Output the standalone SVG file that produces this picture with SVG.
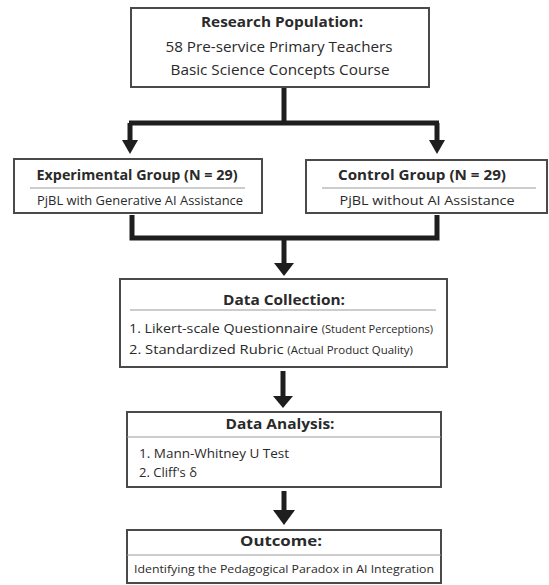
<svg xmlns="http://www.w3.org/2000/svg" width="549" height="585" viewBox="0 0 549 585">
<defs>
<style>
.box{fill:#fff;stroke:#4a4a4a;stroke-width:2}
.sep{stroke:#9a9a9a;stroke-width:1}
.t{font-family:"Open Sans","Liberation Sans",sans-serif;fill:#2a2a2a}
.b{font-weight:bold}
.c{text-anchor:middle}
.con{fill:none;stroke:#1e1e1e;stroke-width:5;stroke-linejoin:miter}
.head{fill:#1e1e1e}
</style>
</defs>
<rect width="549" height="585" fill="#fff"/>

<g id="connectors">
<path class="con" d="M284,88 V123 M129,123 H439"/>
<path class="con" d="M130,123 V141"/>
<path class="con" d="M437,123 V141"/>
<polygon class="head" points="122,140 138,140 130,154"/>
<polygon class="head" points="429,140 445,140 437,154"/>
<path class="con" d="M132,215 V238 H437 V215"/>
<path class="con" d="M284,238 V264"/>
<polygon class="head" points="274,263 294,263 284,276"/>
<path class="con" d="M283,371 V397"/>
<polygon class="head" points="273,396 293,396 283,408"/>
<path class="con" d="M284,491 V511"/>
<polygon class="head" points="273,510 295,510 284,525"/>
</g>

<g id="research">
<rect class="box" x="131" y="8" width="298" height="79"/>
<text class="t b c" x="282" y="27" font-size="14.5" textLength="162" lengthAdjust="spacingAndGlyphs">Research Population:</text>
<text class="t c" x="279" y="52" font-size="14.5" textLength="227" lengthAdjust="spacingAndGlyphs">58 Pre-service Primary Teachers</text>
<text class="t c" x="280" y="75" font-size="14.5" textLength="219" lengthAdjust="spacingAndGlyphs">Basic Science Concepts Course</text>
</g>

<g id="experimental">
<rect class="box" x="14" y="159" width="248" height="54"/>
<text class="t b c" x="137" y="180" font-size="14" textLength="201" lengthAdjust="spacingAndGlyphs">Experimental Group (N = 29)</text>
<line class="sep" x1="30" y1="188" x2="245" y2="188"/>
<text class="t c" x="140" y="205" font-size="12" textLength="206" lengthAdjust="spacingAndGlyphs">PjBL with Generative AI Assistance</text>
</g>

<g id="control">
<rect class="box" x="306" y="160" width="241" height="53"/>
<text class="t b c" x="422" y="180" font-size="14" textLength="168" lengthAdjust="spacingAndGlyphs">Control Group (N = 29)</text>
<line class="sep" x1="322" y1="188" x2="536" y2="188"/>
<text class="t c" x="427" y="205" font-size="12" textLength="175" lengthAdjust="spacingAndGlyphs">PjBL without AI Assistance</text>
</g>

<g id="collection">
<rect class="box" x="120" y="279" width="327" height="88"/>
<text class="t b c" x="284" y="305" font-size="15" textLength="122" lengthAdjust="spacingAndGlyphs">Data Collection:</text>
<line class="sep" x1="130" y1="310" x2="436" y2="310"/>
<text class="t" x="129" y="333" font-size="13.5" textLength="304" lengthAdjust="spacingAndGlyphs">1. Likert-scale Questionnaire <tspan font-size="10.5">(Student Perceptions)</tspan></text>
<text class="t" x="129" y="354" font-size="13.5" textLength="284" lengthAdjust="spacingAndGlyphs">2. Standardized Rubric <tspan font-size="10.5">(Actual Product Quality)</tspan></text>
</g>

<g id="analysis">
<rect class="box" x="127" y="412" width="314" height="75"/>
<text class="t b c" x="280" y="429" font-size="14.5" textLength="109" lengthAdjust="spacingAndGlyphs">Data Analysis:</text>
<line class="sep" x1="127" y1="437" x2="441" y2="437"/>
<text class="t" x="139" y="458" font-size="13" textLength="150" lengthAdjust="spacingAndGlyphs">1. Mann-Whitney U Test</text>
<text class="t" x="139" y="477" font-size="13">2. Cliff's δ</text>
</g>

<g id="outcome">
<rect class="box" x="127" y="530" width="314" height="53"/>
<text class="t b c" x="281" y="546" font-size="14.5" textLength="82" lengthAdjust="spacingAndGlyphs">Outcome:</text>
<line class="sep" x1="127" y1="555" x2="441" y2="555"/>
<text class="t c" x="284" y="573" font-size="11.5" textLength="300" lengthAdjust="spacingAndGlyphs">Identifying the Pedagogical Paradox in AI Integration</text>
</g>
</svg>
